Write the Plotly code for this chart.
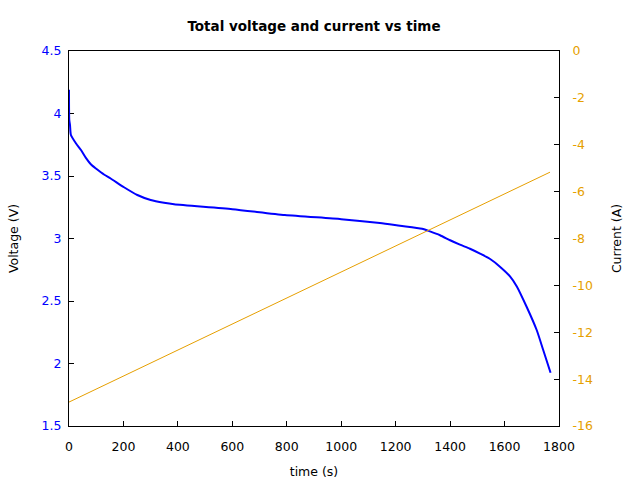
import plotly.graph_objects as go

# Voltage readings
time_v = [0, 1, 3.7, 7, 26, 44, 62, 81, 99, 130, 153, 202, 251, 300, 349, 386, 600, 793,
          1000, 1142, 1216, 1297, 1326, 1363, 1400, 1436, 1473, 1510, 1547, 1583, 1620,
          1645, 1681, 1718, 1742, 1769]
voltage = [4.19, 3.95, 3.908, 3.828, 3.76, 3.708, 3.645, 3.592, 3.56, 3.51, 3.48, 3.41, 3.348,
           3.308, 3.286, 3.274, 3.235, 3.188, 3.155, 3.124, 3.102, 3.078, 3.057, 3.026,
           2.986, 2.951, 2.918, 2.879, 2.836, 2.775, 2.697, 2.617, 2.454, 2.268, 2.108,
           1.926]

# Current readings
time_c = [0, 400, 800, 1200, 1600, 1767]
current = [-14.98, -12.76, -10.55, -8.33, -6.10, -5.17]

x_ticks = [0, 200, 400, 600, 800, 1000, 1200, 1400, 1600, 1800]
v_ticks = [1.5, 2, 2.5, 3, 3.5, 4, 4.5]
v_tick_text = ["1.5", "2", "2.5", "3", "3.5", "4", "4.5"]
c_ticks = [-16, -14, -12, -10, -8, -6, -4, -2, 0]
c_tick_text = ["-16", "-14", "-12", "-10", "-8", "-6", "-4", "-2", "0"]

BLUE = "#0000ff"
ORANGE = "#e69f00"

fig = go.Figure()
fig.add_trace(go.Scatter(x=time_v, y=voltage, mode="lines", line=dict(color=BLUE, width=2),
                         line_shape="spline", line_smoothing=0.6, showlegend=False))
fig.add_trace(go.Scatter(x=time_c, y=current, mode="lines", line=dict(color=ORANGE, width=1),
                         yaxis="y2", showlegend=False))

fig.update_layout(
    width=640, height=480,
    margin=dict(l=69, r=81, t=51, b=54, autoexpand=False),
    paper_bgcolor="white", plot_bgcolor="white",
    font=dict(family="DejaVu Sans", size=12, color="black"),
    title=dict(text="<b>Total voltage and current vs time</b>", x=0.5, xref="paper",
               y=1 - 26 / 480, yref="container", yanchor="middle", font=dict(size=13.5),
               automargin=False),
    xaxis=dict(range=[0, 1800], tickvals=x_ticks, showline=True, linecolor="black",
               linewidth=1, mirror=True, ticks="inside", ticklen=5, tickcolor="black",
               showgrid=False, zeroline=False, ticklabelstandoff=9, automargin=False,
               layer="below traces", tickfont=dict(size=12.5),
               title=dict(text="time (s)", standoff=14, font=dict(size=12.5))),
    yaxis=dict(range=[1.5, 4.5], tickvals=v_ticks, ticktext=v_tick_text, showline=True,
               linecolor="black", linewidth=1, ticks="inside", ticklen=5, tickcolor="black",
               showgrid=False, zeroline=False, tickfont=dict(color=BLUE, size=12.5),
               ticklabelstandoff=4, automargin=False, layer="below traces",
               title=dict(text="Voltage (V)", standoff=20, font=dict(size=12.5))),
    yaxis2=dict(range=[-16, 0], tickvals=c_ticks, ticktext=c_tick_text, overlaying="y",
                side="right", showline=True, linecolor="black", linewidth=1,
                ticks="inside", ticklen=5, tickcolor="black", showgrid=False,
                zeroline=False, tickfont=dict(color=ORANGE, size=12.5),
                ticklabelstandoff=10, automargin=False, layer="below traces",
                title=dict(text="Current (A)", standoff=20, font=dict(size=12.5))),
)

fig.write_html("out.html")
